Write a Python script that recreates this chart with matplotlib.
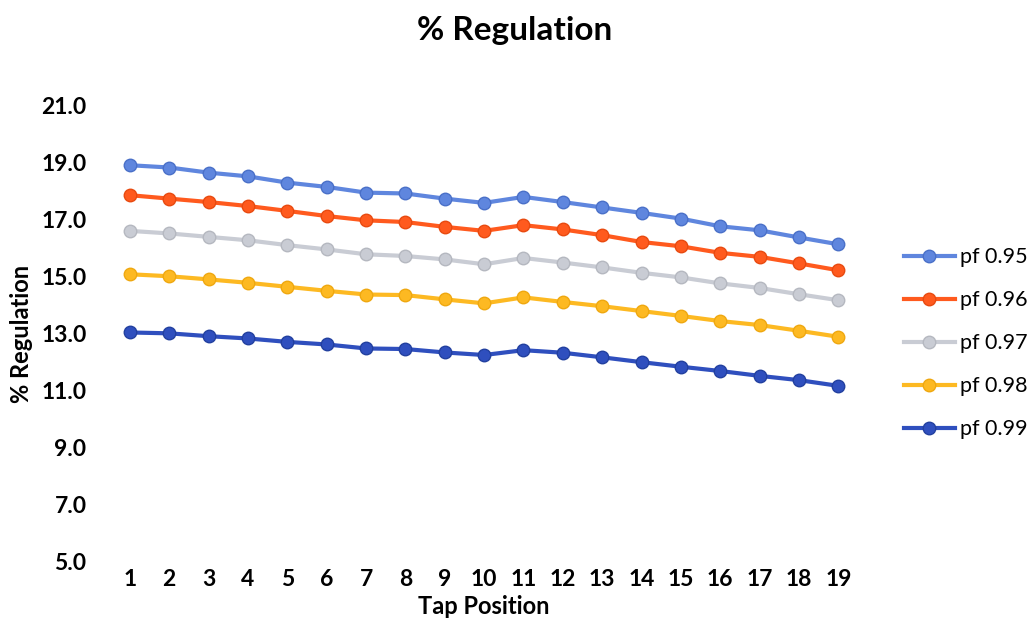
import numpy as np
import matplotlib
matplotlib.use('Agg')
import matplotlib.pyplot as plt

# Tap positions and % regulation for each power factor
taps = list(range(1, 20))
pf095 = [18.90, 18.82, 18.64, 18.51, 18.29, 18.14, 17.94, 17.91, 17.73, 17.58,
         17.79, 17.61, 17.42, 17.23, 17.03, 16.76, 16.62, 16.37, 16.13]
pf096 = [17.85, 17.73, 17.61, 17.47, 17.30, 17.12, 16.97, 16.91, 16.74, 16.60,
         16.80, 16.65, 16.45, 16.21, 16.06, 15.83, 15.69, 15.46, 15.22]
pf097 = [16.60, 16.51, 16.39, 16.27, 16.10, 15.95, 15.78, 15.72, 15.60, 15.43,
         15.65, 15.49, 15.32, 15.13, 14.97, 14.76, 14.60, 14.38, 14.17]
pf098 = [15.08, 15.01, 14.90, 14.78, 14.64, 14.50, 14.37, 14.35, 14.20, 14.06,
         14.27, 14.11, 13.96, 13.79, 13.62, 13.44, 13.30, 13.10, 12.89]
pf099 = [13.04, 13.01, 12.91, 12.83, 12.71, 12.62, 12.48, 12.46, 12.34, 12.25,
         12.42, 12.33, 12.17, 12.00, 11.84, 11.69, 11.52, 11.37, 11.17]

labels = ['pf 0.95', 'pf 0.96', 'pf 0.97', 'pf 0.98', 'pf 0.99']
colors = ['#5F86DE', '#FF5A1E', '#C9CCD4', '#FDB922', '#2F4FBE']
edges = ['#4A70C8', '#E84A10', '#B5B8C0', '#EFA810', '#22409F']

plt.rcParams['font.family'] = ['Lato', 'DejaVu Sans']

fig = plt.figure(figsize=(10.3, 6.23), dpi=100)
ax = fig.add_axes([0.107, 0.098, 0.726, 0.733])

series = [pf095, pf096, pf097, pf098, pf099]
for vals, lab, c, ec in zip(series, labels, colors, edges):
    ax.plot(taps, vals, '-o', color=c, lw=3, ms=9, mfc=c, mec=ec, mew=1,
            label=lab)

ax.set_xlim(0.5, 19.5)
ax.set_ylim(5, 21)
ax.set_xticks(taps)
ax.set_yticks(np.arange(5, 22, 2))
ax.set_yticklabels(['%.1f' % v for v in np.arange(5, 22, 2)])
for s in ax.spines.values():
    s.set_visible(False)
ax.tick_params(length=0, labelsize=16.5)
ax.tick_params(axis='y', pad=17)
ax.tick_params(axis='x', pad=5)
for t in ax.get_xticklabels() + ax.get_yticklabels():
    t.set_fontweight('bold')

ax.set_xlabel('Tap Position', fontsize=17, fontweight='bold', labelpad=4)
ax.set_ylabel('% Regulation', fontsize=17, fontweight='bold', labelpad=6)
fig.suptitle('% Regulation', fontsize=24, fontweight='bold', y=0.975)

ax.legend(loc='center left', bbox_to_anchor=(1.035, 0.479), frameon=False,
          fontsize=15.5, handlelength=2.4, handletextpad=0.2, labelspacing=1.07)

fig.savefig('out.png', dpi=100)
